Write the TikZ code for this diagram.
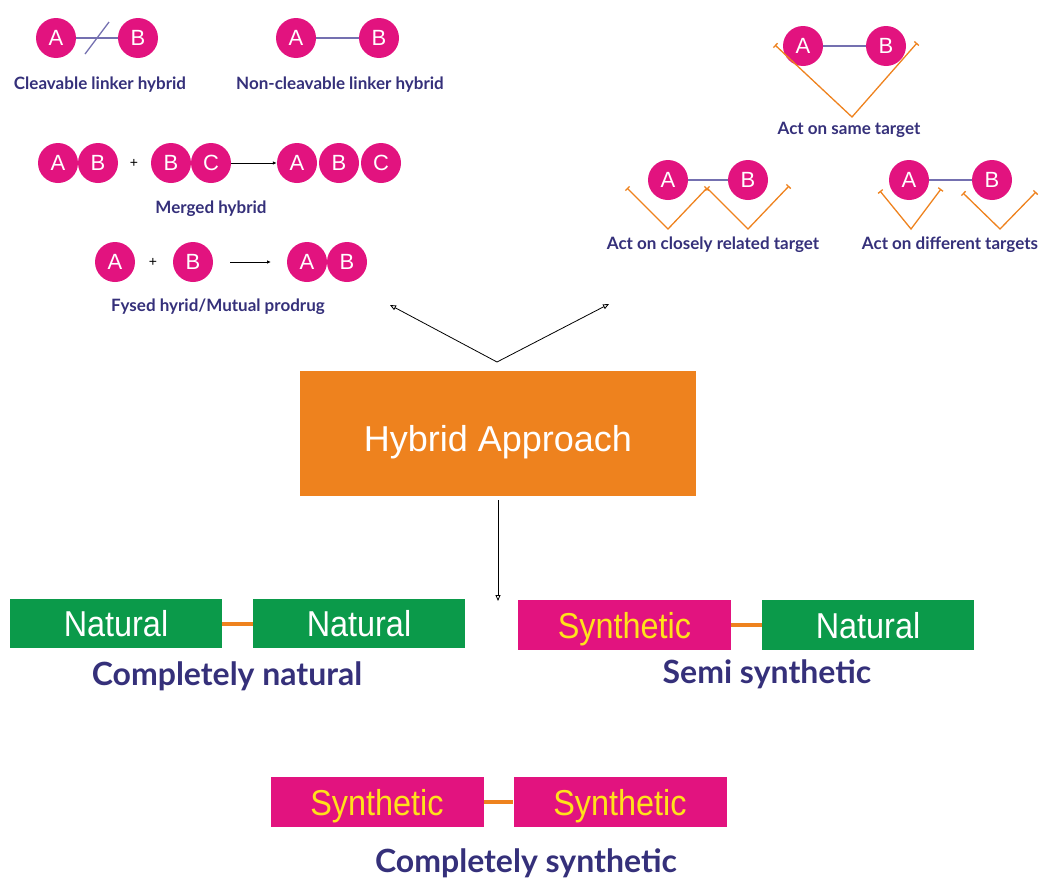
\documentclass[tikz,border=0pt]{standalone}
\usepackage{fontspec}
\setmainfont{Liberation Sans}
\newfontfamily\lbfont{Lato}
\newfontfamily\narrowfont[FakeStretch=0.9]{Liberation Sans}
\usetikzlibrary{arrows.meta}
\definecolor{mag}{HTML}{E2137F}
\definecolor{dblue}{HTML}{35307A}
\definecolor{lpurp}{HTML}{7470B0}
\definecolor{org}{HTML}{EE821E}
\definecolor{grn}{HTML}{0B9A4A}
\definecolor{ylw}{HTML}{FFE21A}
\tikzset{
  circ/.style={circle,fill=mag,minimum size=40pt,inner sep=0pt,text=white,font=\fontsize{22}{22}\selectfont},
  lbl/.style={text=dblue,font=\lbfont\bfseries\fontsize{17}{17}\selectfont},
  biglbl/.style={text=dblue,font=\lbfont\bfseries\fontsize{32}{32}\selectfont},
  link/.style={draw=lpurp,line width=1.3pt},
  tgt/.style={draw=org,line width=1.3pt,{Bar[width=6pt]}-{Bar[width=6pt]}},
  arr/.style={draw=black,line width=0.8pt,-{Triangle[open,length=6pt,width=5pt]}},
  nat/.style={fill=grn,text=white,minimum width=212pt,minimum height=49pt,inner sep=0pt,text height=26pt,text depth=0pt,font=\narrowfont\fontsize{36}{36}\selectfont},
  syn/.style={fill=mag,text=ylw,minimum width=213pt,minimum height=50pt,inner sep=0pt,text height=26pt,text depth=0pt,font=\narrowfont\fontsize{36}{36}\selectfont},
  bond/.style={draw=org,line width=4pt},
  plus/.style={font=\fontsize{14}{14}\selectfont}
}
\begin{document}
\begin{tikzpicture}[x=1pt,y=-1pt]
\useasboundingbox (0,0) rectangle (1045,881);
% cleavable
\node[circ] (c1a) at (56,38) {A};
\node[circ] (c1b) at (138,38) {B};
\draw[link] (c1a) -- (c1b);
\coordinate (s1) at (85,54); \coordinate (s2) at (109,22);
\draw[link] (s1) -- (s2);
\node[lbl] (l1) at (100,85) {Cleavable linker hybrid};
% non-cleavable
\node[circ] (c2a) at (296,38) {A};
\node[circ] (c2b) at (379,38) {B};
\draw[link] (c2a) -- (c2b);
\node[lbl] (l2) at (340,85) {Non-cleavable linker hybrid};
% merged
\node[circ] (m1) at (58,163) {A};
\node[circ] (m2) at (98,163) {B};
\node[plus] (mp) at (134,163) {+};
\node[circ] (m3) at (171,163) {B};
\node[circ] (m4) at (211,163) {C};
\node[circ] (m5) at (297,163) {A};
\node[circ] (m6) at (339,163) {B};
\node[circ] (m7) at (381,163) {C};
\draw[-{Latex[length=4pt,width=3.5pt]},line width=0.9pt] (m4) -- (m5);
\node[lbl] (l3) at (211,209) {Merged hybrid};
% fused
\node[circ] (f1) at (115,262) {A};
\node[plus] (fp) at (153,262) {+};
\node[circ] (f2) at (193,262) {B};
\node[circ] (f3) at (307,262) {A};
\node[circ] (f4) at (347,262) {B};
\coordinate (fa1) at (230,262); \coordinate (fa2) at (271,262);
\draw[-{Latex[length=4pt,width=3.5pt]},line width=0.9pt] (fa1) -- (fa2);
\node[lbl] (l4) at (218,307) {Fysed hyrid/Mutual prodrug};
% same target
\node[circ] (t1a) at (803,46) {A};
\node[circ] (t1b) at (886,46) {B};
\draw[link] (t1a) -- (t1b);
\coordinate (v1) at (775,45); \coordinate (v2) at (852,117); \coordinate (v3) at (917,43);
\draw[tgt] (v1) -- (v2) -- (v3);
\node[lbl] (l5) at (849,130) {Act on same target};
% closely related
\node[circ] (t2a) at (668,180) {A};
\node[circ] (t2b) at (748,180) {B};
\draw[link] (t2a) -- (t2b);
\coordinate (w1) at (627,188); \coordinate (w2) at (668,229); \coordinate (w3) at (707,188);
\coordinate (w4) at (748,229); \coordinate (w5) at (789,186);
\draw[tgt] (w1) -- (w2) -- (w3);
\draw[tgt] (w3) -- (w4) -- (w5);
\node[lbl] (l6) at (713,245) {Act on closely related target};
% different
\node[circ] (t3a) at (909,180) {A};
\node[circ] (t3b) at (992,180) {B};
\draw[link] (t3a) -- (t3b);
\coordinate (d1) at (880,191); \coordinate (d2) at (911,229); \coordinate (d3) at (941,189);
\coordinate (d4) at (963,193); \coordinate (d5) at (1000,229); \coordinate (d6) at (1036,192);
\draw[tgt] (d1) -- (d2) -- (d3);
\draw[tgt] (d4) -- (d5) -- (d6);
\node[lbl] (l7) at (950,245) {Act on different targets};
% hybrid approach
\node[fill=org,text=white,minimum width=396pt,minimum height=125pt,inner sep=0pt,text height=35pt,text depth=0pt,font=\fontsize{36}{36}\selectfont] (ha) at (498,433.5) {Hybrid Approach};
\coordinate (apex) at (497,362);
\coordinate (al) at (390,305); \coordinate (ar) at (609,304);
\draw[arr] (apex) -- (al);
\draw[arr] (apex) -- (ar);
\coordinate (dn) at (498,601);
\draw[arr] (ha.south |- 0,500) -- (dn);
% completely natural
\node[nat] (n1) at (116,623.5) {Natural};
\node[nat] (n2) at (359,623.5) {Natural};
\draw[bond] (n1) -- (n2);
\node[biglbl] (l8) at (227,676) {Completely natural};
% semi synthetic
\node[syn] (s3) at (624.5,625) {Synthetic};
\node[nat,minimum height=50pt] (n3) at (868,625) {Natural};
\draw[bond] (s3) -- (n3);
\node[biglbl] (l9) at (767,674) {Semi synthetic};
% completely synthetic
\node[syn] (s4) at (377,802) {Synthetic};
\node[syn] (s5) at (620,802) {Synthetic};
\draw[bond] (s4) -- (s5);
\node[biglbl] (l10) at (526,863) {Completely synthetic};
\end{tikzpicture}
\end{document}
